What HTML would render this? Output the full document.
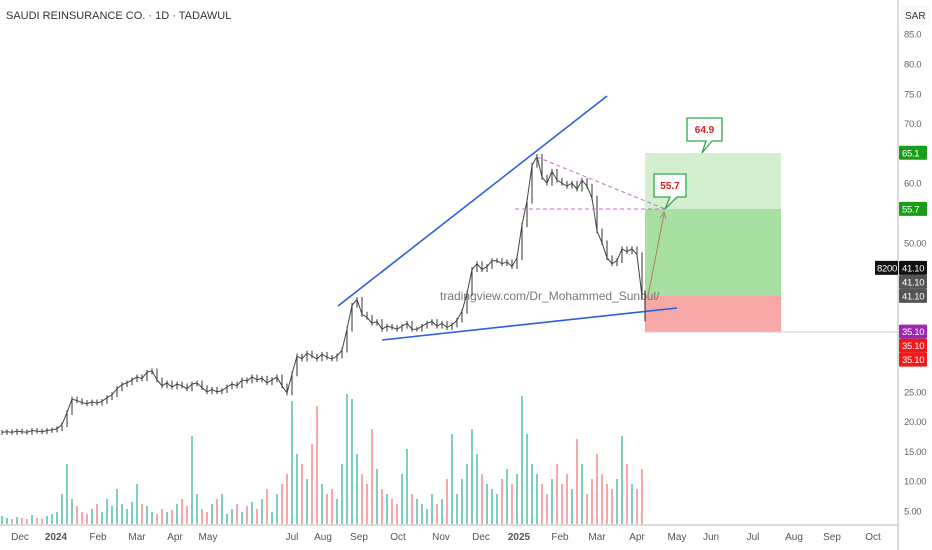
<!DOCTYPE html>
<html><head><meta charset="utf-8">
<style>
html,body{margin:0;padding:0;background:#fff;}
#wrap{position:relative;width:932px;height:550px;overflow:hidden;font-family:"Liberation Sans",sans-serif;}
svg text{font-family:"Liberation Sans",sans-serif;}
</style></head>
<body>
<div id="wrap">
<svg id="chart" width="932" height="550">
  <g id="vol"></g>
  <g id="boxes">
    <rect x="645" y="153" width="136" height="56" fill="#d3efcf"/>
    <rect x="645" y="209" width="136" height="87" fill="#a8e0a3"/>
    <rect x="645" y="296" width="136" height="36" fill="#f8a7a7"/>
  </g>
  <line x1="645" y1="332" x2="898" y2="332" stroke="#d9c6e0" stroke-width="1"/>
  <text x="440" y="300" font-size="12" fill="#777">tradingview.com/Dr_Mohammed_Sunbul/</text>
  <g id="price"></g>
  <line x1="338" y1="306" x2="607" y2="96" stroke="#2c5fdc" stroke-width="1.6"/>
  <line x1="382" y1="340" x2="677" y2="308" stroke="#2c5fdc" stroke-width="1.6"/>
  <line x1="537" y1="157" x2="665" y2="209" stroke="#c070c8" stroke-width="1" stroke-dasharray="4,3"/>
  <line x1="515" y1="209" x2="665" y2="209" stroke="#c070c8" stroke-width="1" stroke-dasharray="4,3"/>
  <line x1="648" y1="296" x2="664" y2="214" stroke="#b08060" stroke-width="1"/>
  <path d="M660 218 L664 212 L666 219" fill="none" stroke="#b08060" stroke-width="1"/>
  <g>
    <path d="M687 118 H722 V141 H712 L702 153 L706 141 H687 Z" fill="#fff" stroke="#2fa84a" stroke-width="1.3"/>
    <text x="704.5" y="133" font-size="10" font-weight="bold" fill="#d32020" text-anchor="middle">64.9</text>
  </g>
  <g>
    <path d="M654 174 H686 V197 H677 L665 209 L670 197 H654 Z" fill="#fff" stroke="#2fa84a" stroke-width="1.3"/>
    <text x="670" y="189" font-size="10" font-weight="bold" fill="#d32020" text-anchor="middle">55.7</text>
  </g>
  <text x="6" y="19" font-size="11" fill="#333">SAUDI REINSURANCE CO. · 1D · TADAWUL</text>
  <line x1="898" y1="0" x2="898" y2="550" stroke="#bbb"/>
  <line x1="0" y1="525" x2="898" y2="525" stroke="#bbb"/>
  <rect x="900" y="5" width="30" height="20" fill="#fafafa"/>
  <text x="905" y="19" font-size="10" fill="#333">SAR</text>
  <g id="yticks"></g>
  <g id="xticks"></g>
  <g id="tags"></g>
</svg>
</div>
<script>
const closes=[18.2,18.3,18.2,18.4,18.3,18.2,18.5,18.4,18.3,18.5,18.6,18.8,
19.5,21.5,23.8,23.5,23.2,23.0,23.3,23.1,23.4,24.0,24.5,25.5,26.2,26.5,27.0,27.5,27.2,28.3,28.5,27.0,26.0,26.5,25.8,26.3,26.0,25.5,26.3,26.5,25.7,25.0,25.4,25.0,25.2,25.8,26.3,26.0,27.0,26.8,27.5,27.0,27.3,26.5,27.0,27.5,26.0,24.8,28.0,31.0,30.5,31.5,31.0,30.5,31.3,30.8,30.5,31.0,32.0,35.5,39.5,40.5,38.0,37.5,36.5,36.8,35.5,36.0,35.8,35.5,36.0,36.5,35.5,35.5,36.0,36.5,36.8,36.0,36.5,35.8,36.2,37.0,38.5,41.5,45.5,46.5,45.5,46.0,47.0,47.0,46.5,46.8,46.0,47.5,53.0,57.0,63.0,64.5,61.0,60.0,62.0,60.5,60.0,59.5,60.0,59.0,60.5,59.5,57.5,52.0,50.0,47.5,46.5,47.0,49.0,48.5,49.0,48.0,41.0];
const volumes=[8,6,5,7,6,5,9,6,5,8,10,12,30,60,25,18,12,10,15,20,12,25,18,35,20,15,22,40,20,18,12,10,15,12,14,20,25,18,88,30,15,12,20,25,30,10,15,20,12,18,22,15,25,35,12,30,40,50,123,70,60,45,80,118,40,30,35,25,60,130,125,70,50,40,95,55,35,30,25,20,50,75,30,25,20,15,30,20,25,45,90,30,45,60,95,70,50,40,35,30,45,55,40,50,128,90,60,50,40,30,45,60,40,50,35,85,60,30,45,70,50,40,35,45,88,60,40,35,55];
const priceTicks=["85.0","80.0","75.0","70.0","60.0","50.00","25.00","20.00","15.00","10.00","5.00"];
const priceTickVals=[85,80,75,70,60,50,25,20,15,10,5];
const monthLabels=["Dec","2024","Feb","Mar","Apr","May","Jul","Aug","Sep","Oct","Nov","Dec","2025","Feb","Mar","Apr","May","Jun","Jul","Aug","Sep","Oct"];
const monthIndex=[3.6,10.8,19.2,27,34.6,41.2,58,64.2,71.4,79.2,87.8,95.8,103.4,111.6,119,127,135,141.8,150.2,158.4,166,174.2];
const tagLabels=["65.1","55.7","41.10","41.10","41.10","35.10","35.10","35.10"];
const tagVals=[65.1,55.7,41.1,41.1,41.1,35.1,35.1,35.1];
const tagColors=["#1a9e1a","#1a9e1a","#111","#555","#555","#9c27b0","#f01818","#f01818"];
const NS="http://www.w3.org/2000/svg";
function yP(v){return 511-(v-5)*5.96;}
function xI(i){return 2+i*5;}
function vH(v){return v*1.0;}
function mk(tag,attrs,parent){const e=document.createElementNS(NS,tag);for(const k in attrs)e.setAttribute(k,attrs[k]);parent.appendChild(e);return e;}
const gp=document.getElementById('price'),gv=document.getElementById('vol');
let d="";
closes.forEach((c,i)=>{
  const prev=i?closes[i-1]:c;
  const hi=Math.max(c,prev)+0.4,lo=Math.min(c,prev)-0.4;
  const x=xI(i);
  const b=mk('line',{x1:x,x2:x,y1:yP(hi),y2:yP(lo),stroke:'#333','stroke-width':1},gp);
  
  
  d+=(i?"L":"M")+x+" "+yP(c).toFixed(1);
});
const pl=mk('path',{d:d,fill:'none',stroke:'#444','stroke-width':1},gp);


const lb=mk('line',{x1:645,x2:645,y1:yP(42),y2:yP(36.8),stroke:'#222','stroke-width':1},gp);


volumes.forEach((v,i)=>{
  const up=i===0||closes[i]>=closes[i-1];
  const r=mk('rect',{x:xI(i)-1,y:524-vH(v),width:2,height:vH(v),fill:up?'#7fcfbf':'#f8a8a8'},gv);
  
  
});
const gy=document.getElementById('yticks');
priceTicks.forEach((t,i)=>{
  const e=mk('text',{x:904,y:yP(priceTickVals[i])+3.5,'font-size':9.5,fill:'#666','letter-spacing':'-0.3'},gy);
  e.textContent=t;
  
  
});
const gx=document.getElementById('xticks');
monthLabels.forEach((t,i)=>{
  const e=mk('text',{x:xI(monthIndex[i]),y:540,'font-size':10,fill:'#555','text-anchor':'middle','font-weight':(t==="2024"||t==="2025")?'bold':'normal'},gx);
  e.textContent=t;
  
  
});
// stack duplicate tags: above-current-price group stacks upward, below stacks downward
const gt=document.getElementById('tags');
const groups={};
tagVals.forEach((v,i)=>{(groups[v]=groups[v]||[]).push(i);});
Object.keys(groups).forEach(k=>{
  const idx=groups[k],n=idx.length,v=+k;
  const up=v>40;
  idx.forEach((i,j)=>{
    const y=yP(v)+(up?(j-(n-1))*14:j*14);
    const r=mk('rect',{x:899,y:y-7,width:28,height:14,fill:tagColors[i],rx:1},gt);
    
    
    const e=mk('text',{x:902,y:y+3.5,'font-size':9.5,fill:'#fff','letter-spacing':'-0.3'},gt);
    e.textContent=tagLabels[i];
    
    
  });
});
const vy=yP(41.1)-28;
const vb=mk('rect',{x:875,y:vy-7,width:23,height:14,fill:'#111'},gt);


const vt=mk('text',{x:877,y:vy+3.5,'font-size':9.5,fill:'#fff','letter-spacing':'-0.3'},gt);
vt.textContent="8200";


</script>
</body></html>
